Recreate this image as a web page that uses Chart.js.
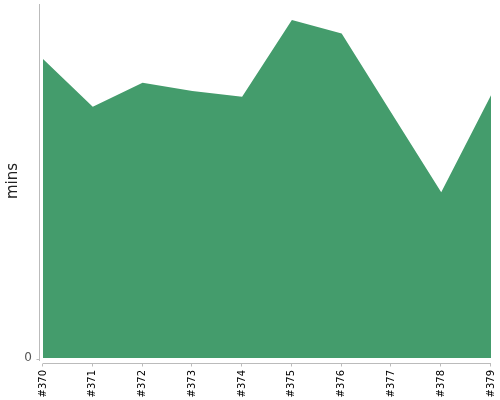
<!DOCTYPE html>
<html>
<head>
<meta charset="utf-8">
<script src="https://cdn.jsdelivr.net/npm/chart.js@4/dist/chart.umd.min.js"></script>
<style>
html,body{margin:0;padding:0;background:#fff;}
#wrap{width:500px;height:400px;}
</style>
</head>
<body>
<div id="wrap"><canvas id="c" width="500" height="400"></canvas></div>
<script>
const categories = ['#370','#371','#372','#373','#374','#375','#376','#377','#378','#379'];
const minsValues = [17.74, 14.91, 16.33, 15.84, 15.50, 20.05, 19.25, 14.53, 9.83, 15.58];
const yTickValues = [0];
const yMax = 21;

const axisColor = '#bbbbbb';

const axisLinesPlugin = {
  id: 'axisLines',
  afterDraw(chart) {
    const ctx = chart.ctx;
    const area = chart.chartArea;
    const xs = chart.scales.x;
    const ys = chart.scales.y;
    ctx.save();
    ctx.strokeStyle = axisColor;
    ctx.lineWidth = 1;
    const yx = area.left - 3.5;
    ctx.beginPath();
    ctx.moveTo(yx, area.top);
    ctx.lineTo(yx, area.bottom + 3);
    ctx.stroke();
    yTickValues.forEach(v => {
      const py = Math.round(ys.getPixelForValue(v)) + 1.5;
      ctx.beginPath();
      ctx.moveTo(yx - 3, py);
      ctx.lineTo(yx, py);
      ctx.stroke();
    });
    const xy = area.bottom + 5.5;
    ctx.beginPath();
    ctx.moveTo(area.left, xy);
    ctx.lineTo(area.right, xy);
    ctx.stroke();
    categories.forEach((c, i) => {
      const px = Math.round(xs.getPixelForValue(i)) - 0.5;
      ctx.beginPath();
      ctx.moveTo(px, xy);
      ctx.lineTo(px, xy + 3);
      ctx.stroke();
    });
    ctx.restore();
  }
};

new Chart(document.getElementById('c'), {
  type: 'line',
  data: {
    labels: categories,
    datasets: [{
      data: minsValues,
      fill: 'origin',
      backgroundColor: '#449c6c',
      borderColor: '#449c6c',
      borderWidth: 0,
      pointRadius: 0,
      pointHoverRadius: 0,
      tension: 0
    }]
  },
  options: {
    responsive: false,
    animation: false,
    devicePixelRatio: 1,
    layout: { padding: { top: 4, right: 9, left: 0, bottom: 0 } },
    plugins: { legend: { display: false }, tooltip: { enabled: false } },
    scales: {
      x: {
        offset: false,
        grid: { display: false, drawTicks: false },
        border: { display: false },
        ticks: {
          autoSkip: false,
          minRotation: 90,
          maxRotation: 90,
          padding: 12,
          color: '#000',
          font: { family: 'DejaVu Sans', size: 10 }
        },
        afterFit(scale) {
          scale.height = 42;
          scale.paddingLeft = 0; scale.paddingRight = 0;
          scale.paddingTop = 0; scale.paddingBottom = 0;
        }
      },
      y: {
        min: 0,
        max: yMax,
        grid: { display: false, drawTicks: false },
        border: { display: false },
        afterBuildTicks(scale) { scale.ticks = yTickValues.map(v => ({ value: v })); },
        ticks: {
          padding: 11,
          color: '#555',
          font: { family: 'DejaVu Sans', size: 12 }
        },
        title: {
          display: true,
          text: 'mins',
          color: '#222',
          padding: { top: 4, bottom: 0 },
          font: { family: 'DejaVu Sans', size: 15 }
        },
        afterFit(scale) {
          scale.width = 43;
          scale.paddingLeft = 0; scale.paddingRight = 0;
          scale.paddingTop = 0; scale.paddingBottom = 0;
        }
      }
    }
  },
  plugins: [axisLinesPlugin]
});
</script>
</body>
</html>
